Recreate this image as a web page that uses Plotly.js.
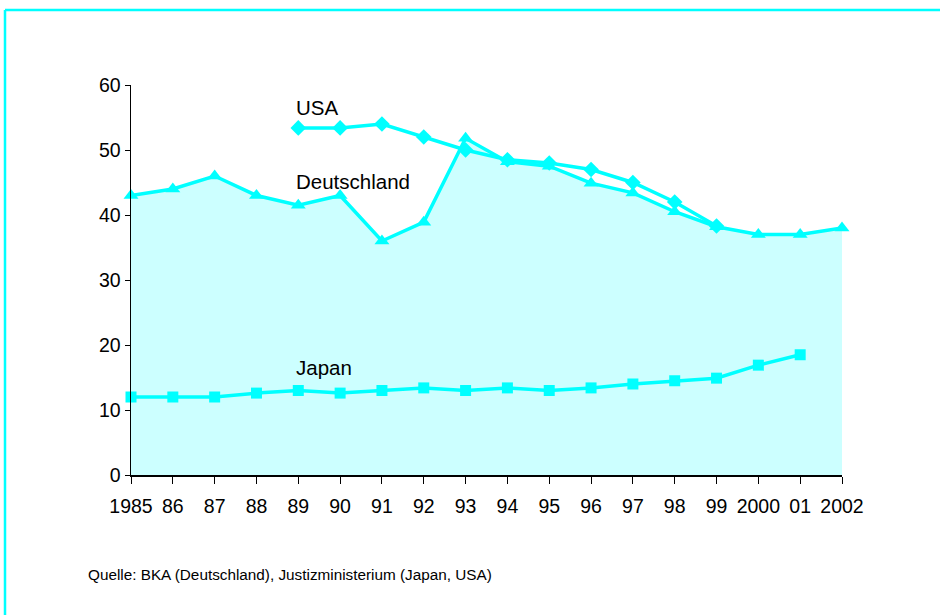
<!DOCTYPE html>
<html>
<head>
<meta charset="utf-8">
<script src="https://cdn.plot.ly/plotly-3.0.1.min.js"></script>
<style>
  html, body { margin: 0; padding: 0; background: #fff; }
  #chart { width: 940px; height: 615px; }
</style>
</head>
<body>
<div id="chart"></div>
<script>
const years = [1985, 1986, 1987, 1988, 1989, 1990, 1991, 1992, 1993, 1994, 1995, 1996, 1997, 1998, 1999, 2000, 2001, 2002];
const tickLabels = ["1985", "86", "87", "88", "89", "90", "91", "92", "93", "94", "95", "96", "97", "98", "99", "2000", "01", "2002"];

const deutschland = [43, 44, 46, 43, 41.5, 43, 36, 38.9, 51.8, 48.2, 47.5, 44.9, 43.4, 40.5, 38.2, 37, 37, 38];

const usaYears = [1989, 1990, 1991, 1992, 1993, 1994, 1995, 1996, 1997, 1998, 1999];
const usa = [53.4, 53.4, 54, 52, 50, 48.5, 48, 47, 45, 42, 38.3];

const japanYears = [1985, 1986, 1987, 1988, 1989, 1990, 1991, 1992, 1993, 1994, 1995, 1996, 1997, 1998, 1999, 2000, 2001];
const japan = [12, 12, 12, 12.6, 13, 12.6, 13, 13.4, 13, 13.4, 13, 13.4, 14, 14.5, 14.9, 16.9, 18.5];

const seriesLabels = ["USA", "Deutschland", "Japan"];
const sourceText = "Quelle: BKA (Deutschland), Justizministerium (Japan, USA)";

const cyan = "#00ffff";
const fillCyan = "#ccffff";
const font = "Liberation Sans, Arial, sans-serif";

const traces = [
  {
    x: years, y: deutschland, type: "scatter", mode: "none",
    fill: "tozeroy", fillcolor: fillCyan, hoverinfo: "skip", showlegend: false
  },
  {
    x: japanYears, y: japan, type: "scatter", mode: "lines+markers",
    line: {color: cyan, width: 3.5}, marker: {symbol: "square", size: 11, color: cyan},
    cliponaxis: false, showlegend: false
  },
  {
    x: usaYears, y: usa, type: "scatter", mode: "lines+markers",
    line: {color: cyan, width: 3.5}, marker: {symbol: "diamond", size: 12, color: cyan},
    cliponaxis: false, showlegend: false
  },
  {
    x: years, y: deutschland, type: "scatter", mode: "lines+markers",
    line: {color: cyan, width: 3.5}, marker: {symbol: "triangle-up", size: 13, color: cyan},
    cliponaxis: false, showlegend: false
  }
];

const layout = {
  width: 940, height: 615,
  margin: {l: 131, r: 98, t: 85, b: 140},
  paper_bgcolor: "#fff", plot_bgcolor: "rgba(0,0,0,0)",
  font: {family: font, color: "#000", size: 19},
  xaxis: {
    range: [1985, 2002], tickvals: years, ticktext: tickLabels,
    showgrid: false, zeroline: false, showline: true, linecolor: "#000", linewidth: 1.5,
    ticks: "outside", ticklen: 7, tickcolor: "#000", tickwidth: 1,
    ticklabelstandoff: 6, tickfont: {size: 19.5, family: font}
  },
  yaxis: {
    range: [0, 60], tickvals: [0, 10, 20, 30, 40, 50, 60],
    showgrid: false, zeroline: false, showline: true, linecolor: "#000", linewidth: 1.5,
    ticks: "outside", ticklen: 5, tickcolor: "#000", tickwidth: 1,
    tickfont: {size: 19.5, family: font}
  },
  annotations: [
    {x: 1988.9, y: 56.5, xref: "x", yref: "y", text: seriesLabels[0], showarrow: false, xanchor: "left", yanchor: "middle", font: {size: 20.5, family: font}},
    {x: 1988.9, y: 45.1, xref: "x", yref: "y", text: seriesLabels[1], showarrow: false, xanchor: "left", yanchor: "middle", font: {size: 20.5, family: font}},
    {x: 1988.9, y: 16.6, xref: "x", yref: "y", text: seriesLabels[2], showarrow: false, xanchor: "left", yanchor: "middle", font: {size: 20.5, family: font}},
    {x: (86 - 131) / 711, y: (475 - 574) / 390, xref: "paper", yref: "paper", text: sourceText, showarrow: false, xanchor: "left", yanchor: "middle", font: {size: 15.3, family: font}}
  ],
  shapes: [
    {type: "line", xref: "paper", yref: "paper", x0: (5 - 131) / 711, x1: (945 - 131) / 711, y0: (475 - 10) / 390, y1: (475 - 10) / 390, line: {color: cyan, width: 2.5}},
    {type: "line", xref: "paper", yref: "paper", x0: (5 - 131) / 711, x1: (5 - 131) / 711, y0: (475 - 10) / 390, y1: (475 - 620) / 390, line: {color: cyan, width: 2.5}}
  ]
};

Plotly.newPlot("chart", traces, layout, {displayModeBar: false, staticPlot: true});
</script>
</body>
</html>
